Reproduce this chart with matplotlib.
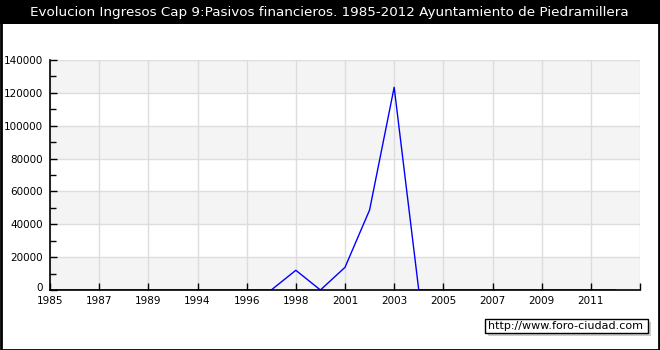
import matplotlib
matplotlib.use("Agg")
import matplotlib.pyplot as plt
import matplotlib.transforms as mtransforms
from matplotlib.patches import Rectangle

# Years present in the source table (one category per entry)
years = ["1985", "1986", "1987", "1988", "1989", "1993", "1994", "1995",
         "1996", "1997", "1998", "2000", "2001", "2002", "2003", "2004",
         "2005", "2006", "2007", "2008", "2009", "2010", "2011", "2012"]
ingresos = [0, 0, 0, 0, 0, 0, 0, 0,
            0, 0, 12000, 0, 13800, 48700, 123400, 0,
            0, 0, 0, 0, 0, 0, 0, 0]
yticks = [0, 20000, 40000, 60000, 80000, 100000, 120000, 140000]

W, H = 660, 350
fig = plt.figure(figsize=(W / 100, H / 100), dpi=100)
fig.patch.set_facecolor("white")

# outer border + black title bar
fig.add_artist(Rectangle((0.5 / W, 0.5 / H), 1 - 1.5 / W, 1 - 1.5 / H,
                         transform=fig.transFigure, fill=False,
                         edgecolor="black", linewidth=2))
fig.add_artist(Rectangle((0, 1 - 24 / H), 1, 24 / H, transform=fig.transFigure,
                         facecolor="black", edgecolor="none"))
fig.text(329 / W, 1 - 12.5 / H,
         "Evolucion Ingresos Cap 9:Pasivos financieros. 1985-2012 Ayuntamiento de Piedramillera",
         color="white", fontsize=9.7, ha="center", va="center")

ax = fig.add_axes([50 / W, 60 / H, 590 / W, 230 / H])
ax.set_xlim(0, 24)
ax.set_ylim(0, 140000)

# alternating horizontal bands
for i in range(0, len(yticks) - 1, 2):
    ax.axhspan(yticks[i], yticks[i + 1], color="#f4f4f4", zorder=0, lw=0)

xpos = list(range(len(years)))
ax.plot(xpos, ingresos, color="blue", linewidth=1, zorder=3)

ax.set_yticks(yticks)
ax.set_yticklabels([str(v) for v in yticks])
ax.set_yticks(range(10000, 140000, 20000), minor=True)
ax.set_xticks(range(0, 25, 2))
ax.set_xticklabels(years[0::2] + [""])

ax.grid(True, color="#dddddd", linewidth=1, zorder=1)
ax.set_axisbelow(True)
for side in ("top", "right"):
    ax.spines[side].set_visible(False)
for side in ("left", "bottom"):
    ax.spines[side].set_linewidth(1.2)
    ax.spines[side].set_zorder(4)

ax.tick_params(axis="both", which="major", direction="in", length=5,
               width=1, labelsize=7.5, colors="black")
ax.tick_params(axis="y", which="minor", direction="in", length=4, width=1)
ax.tick_params(axis="y", pad=5)
ax.tick_params(axis="x", pad=4)

# lift the "0" label a little so it clears the first year label
zero_lbl = ax.get_yticklabels()[0]
zero_lbl.set_transform(zero_lbl.get_transform() +
                       mtransforms.ScaledTranslation(0, 3 / 100, fig.dpi_scale_trans))

# watermark box with shadow
fig.add_artist(Rectangle((488 / W, 1 - 336 / H), 163 / W, 14 / H,
                         transform=fig.transFigure, facecolor="#cccccc",
                         edgecolor="none"))
fig.add_artist(Rectangle((485 / W, 1 - 333 / H), 163 / W, 14 / H,
                         transform=fig.transFigure, facecolor="white",
                         edgecolor="black", linewidth=1))
fig.text(488 / W, 1 - 326 / H, "http://www.foro-ciudad.com",
         fontsize=8, ha="left", va="center", color="black")

fig.savefig("out.png", dpi=100)
